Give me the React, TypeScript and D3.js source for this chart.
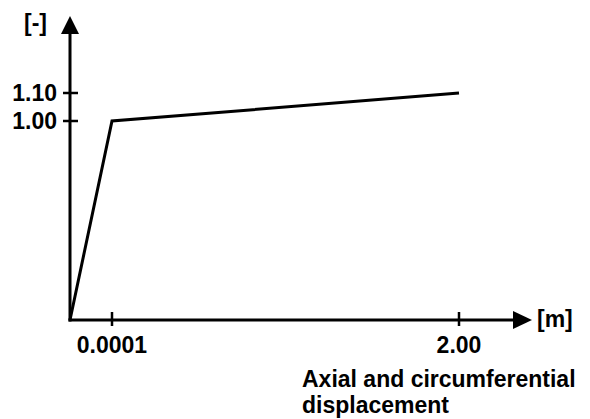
import React, { useRef, useEffect } from "react";
import * as d3 from "d3";

const xValues = [0, 0.0001, 2.0];
const yValues = [0, 1.0, 1.1];
const xTickLabels = ["0.0001", "2.00"];
const yTickLabels = ["1.10", "1.00"];
const xTicks = [0.0001, 2.0];
const yTicks = [1.1, 1.0];

const width = 590;
const height = 419;
const font = "'Liberation Sans', Arial, sans-serif";

const App = () => {
  const canvas = useRef<SVGSVGElement>(null);

  useEffect(() => {
    const svg = d3.select(canvas.current);
    svg.selectAll("*").remove();

    // axes are not to scale in the original sketch, so piecewise scales
    const xScale = d3.scaleLinear().domain([0, 0.0001, 2.0]).range([70, 112, 459]);
    const yScale = d3.scaleLinear().domain([0, 1.0, 1.1]).range([320, 121, 93]);

    const x0 = xScale(0);
    const y0 = yScale(0);

    // y axis + arrow
    svg.append("line")
      .attr("x1", x0).attr("y1", y0 + 1.5)
      .attr("x2", x0).attr("y2", 32)
      .attr("stroke", "#000").attr("stroke-width", 3);
    svg.append("path")
      .attr("d", `M${x0 - 9},34 L${x0},16 L${x0 + 9},34 Z`)
      .attr("fill", "#000");

    // x axis + arrow
    svg.append("line")
      .attr("x1", x0 - 1.5).attr("y1", y0)
      .attr("x2", 515).attr("y2", y0)
      .attr("stroke", "#000").attr("stroke-width", 3);
    svg.append("path")
      .attr("d", `M513,${y0 - 9} L532,${y0} L513,${y0 + 9} Z`)
      .attr("fill", "#000");

    // y ticks
    yTicks.forEach((v, i) => {
      svg.append("line")
        .attr("x1", x0 - 7).attr("x2", x0 + 8)
        .attr("y1", yScale(v)).attr("y2", yScale(v))
        .attr("stroke", "#000").attr("stroke-width", 2.5);
      svg.append("text")
        .attr("x", 57).attr("y", yScale(v) + 8)
        .attr("text-anchor", "end")
        .attr("font-family", font).attr("font-weight", "bold")
        .attr("font-size", 23)
        .text(yTickLabels[i]);
    });

    // x ticks
    xTicks.forEach((v, i) => {
      svg.append("line")
        .attr("x1", xScale(v)).attr("x2", xScale(v))
        .attr("y1", y0 - 8).attr("y2", y0 + 6)
        .attr("stroke", "#000").attr("stroke-width", 2.5);
      svg.append("text")
        .attr("x", xScale(v)).attr("y", 353)
        .attr("text-anchor", "middle")
        .attr("font-family", font).attr("font-weight", "bold")
        .attr("font-size", 23)
        .text(xTickLabels[i]);
    });

    // unit labels
    svg.append("text")
      .attr("x", 24).attr("y", 31)
      .attr("font-family", font).attr("font-weight", "bold")
      .attr("font-size", 23)
      .text("[-]");
    svg.append("text")
      .attr("x", 537).attr("y", 327)
      .attr("font-family", font).attr("font-weight", "bold")
      .attr("font-size", 23)
      .text("[m]");

    // x axis title, two lines
    const title = svg.append("text")
      .attr("x", 302).attr("y", 387)
      .attr("font-family", font).attr("font-weight", "bold")
      .attr("font-size", 23);
    title.append("tspan").attr("x", 302).text("Axial and circumferential");
    title.append("tspan").attr("x", 302).attr("dy", 26).text("displacement");

    // data line
    const line = d3.line<number>()
      .x((d, i) => xScale(xValues[i]))
      .y((d) => yScale(d));
    svg.append("path")
      .datum(yValues)
      .attr("fill", "none")
      .attr("stroke", "#000")
      .attr("stroke-width", 3)
      .attr("stroke-linejoin", "miter")
      .attr("d", line);
  });

  return (
    <svg
      ref={canvas}
      width={width}
      height={height}
      style={{ position: "absolute", left: 0, top: 0, background: "#fff" }}
    />
  );
};

export default App;
